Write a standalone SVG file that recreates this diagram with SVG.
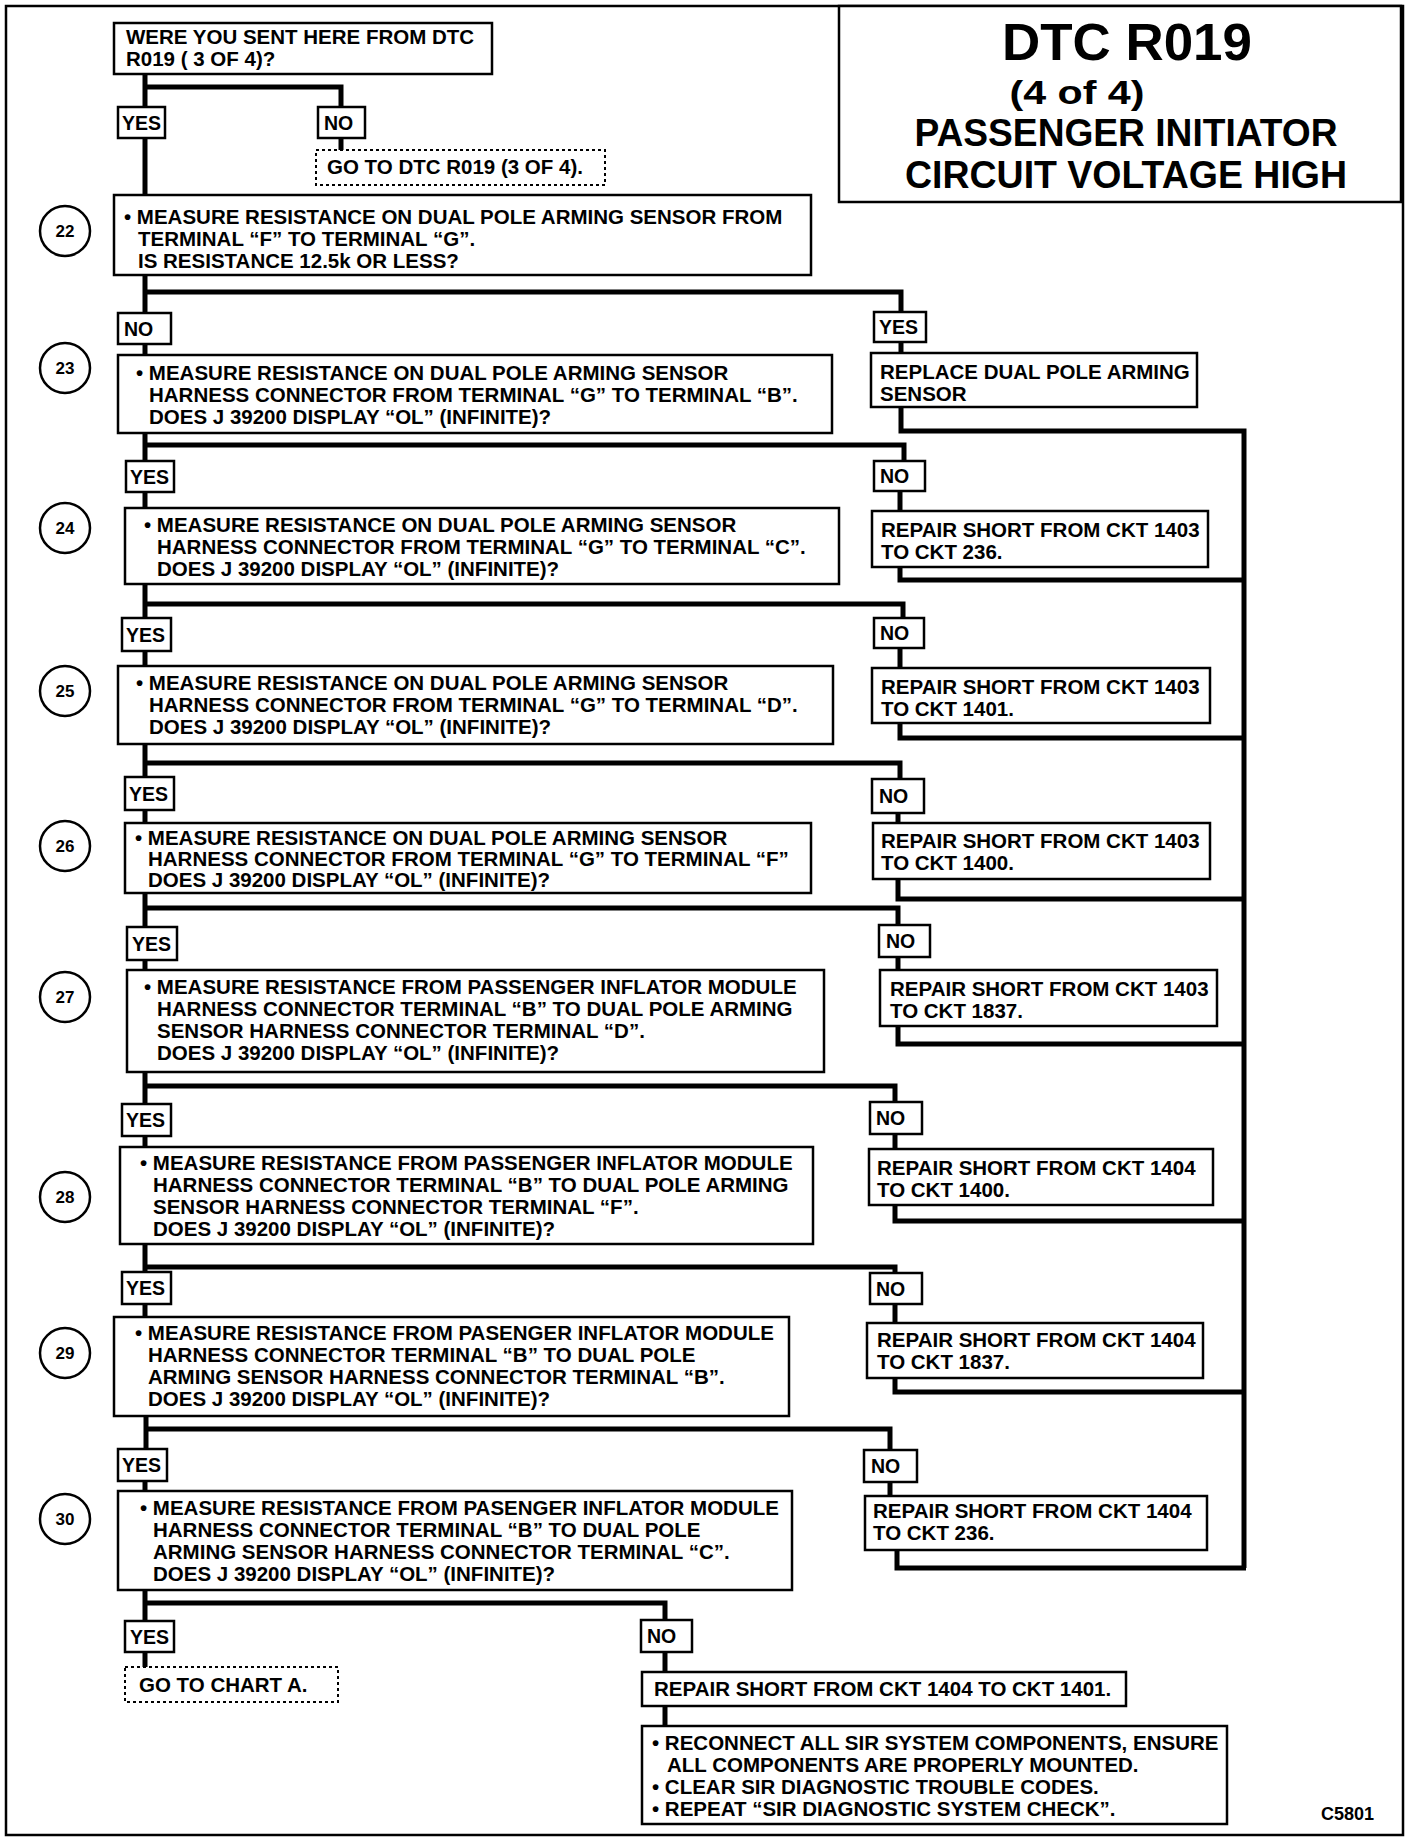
<svg xmlns="http://www.w3.org/2000/svg" width="1424" height="1846" viewBox="0 0 1424 1846">
<style>
.box{fill:#fff;stroke:#000;stroke-width:2.5}
.dash{fill:#fff;stroke:#000;stroke-width:2;stroke-dasharray:3 3}
.conn{fill:none;stroke:#000;stroke-width:5;stroke-linejoin:miter;stroke-linecap:butt}
.frame{fill:none;stroke:#000;stroke-width:2.5}
.circ{fill:#fff;stroke:#000;stroke-width:2.5}
text{font-family:"Liberation Sans",Arial,sans-serif;font-weight:bold;fill:#000}
.t{font-size:20.5px}
.lbl{font-size:19.5px}
.num{font-size:17px;text-anchor:middle}
.title{text-anchor:middle}
</style>
<rect x="0" y="0" width="1424" height="1846" fill="#fff"/>
<rect class="frame" x="6" y="6" width="1397" height="1829"/>

<g id="title">
<rect class="box" x="839" y="6" width="562" height="196"/>
<text class="title" x="1127" y="60" font-size="52" textLength="250" lengthAdjust="spacingAndGlyphs">DTC R019</text>
<text class="title" x="1077" y="104" font-size="34" textLength="135" lengthAdjust="spacingAndGlyphs">(4 of 4)</text>
<text class="title" x="1126" y="146" font-size="38" textLength="423" lengthAdjust="spacingAndGlyphs">PASSENGER INITIATOR</text>
<text class="title" x="1126" y="188" font-size="38" textLength="442" lengthAdjust="spacingAndGlyphs">CIRCUIT VOLTAGE HIGH</text>
</g>

<g id="connectors">
<path class="conn" d="M145 74 V107 M145 87 H341 V107"/>
<path class="conn" d="M341 138 V150"/>
<path class="conn" d="M145 138 V195"/>
<path class="conn" d="M145 275 V313 M145 292 H901 V312"/>
<path class="conn" d="M145 344 V355"/>
<path class="conn" d="M901 342 V353"/>
<path class="conn" d="M901 407 V431 H1244 V1568"/>
<path class="conn" d="M145 433 V461 M145 445 H904 V461"/>
<path class="conn" d="M145 492 V508"/>
<path class="conn" d="M900 491 V511"/>
<path class="conn" d="M900 567 V580 H1244"/>
<path class="conn" d="M145 584 V618 M145 604 H903 V618"/>
<path class="conn" d="M145 651 V666"/>
<path class="conn" d="M900 648 V668"/>
<path class="conn" d="M900 723 V738 H1244"/>
<path class="conn" d="M145 744 V777 M145 763 H900 V779"/>
<path class="conn" d="M145 810 V823"/>
<path class="conn" d="M898 813 V823"/>
<path class="conn" d="M898 879 V899 H1244"/>
<path class="conn" d="M145 893 V927 M145 908 H898 V925"/>
<path class="conn" d="M145 960 V970"/>
<path class="conn" d="M898 957 V970"/>
<path class="conn" d="M898 1026 V1044 H1244"/>
<path class="conn" d="M145 1072 V1104 M145 1086 H895 V1102"/>
<path class="conn" d="M145 1136 V1147"/>
<path class="conn" d="M895 1134 V1149"/>
<path class="conn" d="M895 1205 V1221 H1244"/>
<path class="conn" d="M145 1244 V1272 M145 1267 H895 V1273"/>
<path class="conn" d="M145 1304 V1317"/>
<path class="conn" d="M895 1304 V1323"/>
<path class="conn" d="M895 1378 V1392 H1244"/>
<path class="conn" d="M146 1416 V1449 M146 1429 H890 V1450"/>
<path class="conn" d="M145 1481 V1491"/>
<path class="conn" d="M890 1482 V1496"/>
<path class="conn" d="M897 1550 V1568 H1246"/>
<path class="conn" d="M145 1590 V1621 M145 1603 H665 V1620"/>
<path class="conn" d="M145 1652 V1667"/>
<path class="conn" d="M665 1652 V1672"/>
<path class="conn" d="M665 1706 V1726"/>
</g>

<g id="start">
<rect class="box" x="114" y="23" width="378" height="51"/>
<text class="t" x="126" y="44">WERE YOU SENT HERE FROM DTC</text>
<text class="t" x="126" y="66">R019 ( 3 OF 4)?</text>
</g>
<g id="yes-start"><rect class="box" x="118" y="107" width="47" height="31"/><text class="lbl" x="122" y="130">YES</text></g>
<g id="no-start"><rect class="box" x="318" y="107" width="47" height="31"/><text class="lbl" x="324" y="130">NO</text></g>
<g id="goto-dtc">
<rect class="dash" x="316" y="150" width="289" height="35"/>
<text class="t" x="327" y="174">GO TO DTC R019 (3 OF 4).</text>
</g>

<g id="step22">
<circle class="circ" cx="65" cy="231" r="25"/><text class="num" x="65" y="237">22</text>
<rect class="box" x="114" y="195" width="697" height="80"/>
<text class="t" x="124" y="224">• MEASURE RESISTANCE ON DUAL POLE ARMING SENSOR FROM</text>
<text class="t" x="138" y="246">TERMINAL “F” TO TERMINAL “G”.</text>
<text class="t" x="138" y="268">IS RESISTANCE 12.5k OR LESS?</text>
</g>
<g id="no22"><rect class="box" x="118" y="313" width="53" height="31"/><text class="lbl" x="124" y="336">NO</text></g>
<g id="yes22"><rect class="box" x="874" y="312" width="52" height="30"/><text class="lbl" x="879" y="334">YES</text></g>
<g id="replace">
<rect class="box" x="871" y="353" width="326" height="54"/>
<text class="t" x="880" y="379">REPLACE DUAL POLE ARMING</text>
<text class="t" x="880" y="401">SENSOR</text>
</g>

<g id="step23">
<circle class="circ" cx="65" cy="368" r="25"/><text class="num" x="65" y="374">23</text>
<rect class="box" x="118" y="355" width="714" height="78"/>
<text class="t" x="136" y="380">• MEASURE RESISTANCE ON DUAL POLE ARMING SENSOR</text>
<text class="t" x="149" y="402">HARNESS CONNECTOR FROM TERMINAL “G” TO TERMINAL “B”.</text>
<text class="t" x="149" y="424">DOES J 39200 DISPLAY “OL” (INFINITE)?</text>
</g>
<g id="yes23"><rect class="box" x="126" y="461" width="48" height="31"/><text class="lbl" x="130" y="484">YES</text></g>
<g id="no23"><rect class="box" x="874" y="461" width="51" height="30"/><text class="lbl" x="880" y="483">NO</text></g>
<g id="repair-1403-236">
<rect class="box" x="872" y="511" width="336" height="56"/>
<text class="t" x="881" y="537">REPAIR SHORT FROM CKT 1403</text>
<text class="t" x="881" y="559">TO CKT 236.</text>
</g>

<g id="step24">
<circle class="circ" cx="65" cy="528" r="25"/><text class="num" x="65" y="534">24</text>
<rect class="box" x="125" y="508" width="714" height="76"/>
<text class="t" x="144" y="532">• MEASURE RESISTANCE ON DUAL POLE ARMING SENSOR</text>
<text class="t" x="157" y="554">HARNESS CONNECTOR FROM TERMINAL “G” TO TERMINAL “C”.</text>
<text class="t" x="157" y="576">DOES J 39200 DISPLAY “OL” (INFINITE)?</text>
</g>
<g id="yes24"><rect class="box" x="122" y="618" width="49" height="33"/><text class="lbl" x="126" y="642">YES</text></g>
<g id="no24"><rect class="box" x="874" y="618" width="50" height="30"/><text class="lbl" x="880" y="640">NO</text></g>
<g id="repair-1403-1401">
<rect class="box" x="872" y="668" width="338" height="55"/>
<text class="t" x="881" y="694">REPAIR SHORT FROM CKT 1403</text>
<text class="t" x="881" y="716">TO CKT 1401.</text>
</g>

<g id="step25">
<circle class="circ" cx="65" cy="691" r="25"/><text class="num" x="65" y="697">25</text>
<rect class="box" x="118" y="666" width="715" height="78"/>
<text class="t" x="136" y="690">• MEASURE RESISTANCE ON DUAL POLE ARMING SENSOR</text>
<text class="t" x="149" y="712">HARNESS CONNECTOR FROM TERMINAL “G” TO TERMINAL “D”.</text>
<text class="t" x="149" y="734">DOES J 39200 DISPLAY “OL” (INFINITE)?</text>
</g>
<g id="yes25"><rect class="box" x="125" y="777" width="49" height="33"/><text class="lbl" x="129" y="801">YES</text></g>
<g id="no25"><rect class="box" x="872" y="779" width="52" height="34"/><text class="lbl" x="879" y="803">NO</text></g>
<g id="repair-1403-1400">
<rect class="box" x="873" y="823" width="337" height="56"/>
<text class="t" x="881" y="848">REPAIR SHORT FROM CKT 1403</text>
<text class="t" x="881" y="870">TO CKT 1400.</text>
</g>

<g id="step26">
<circle class="circ" cx="65" cy="846" r="25"/><text class="num" x="65" y="852">26</text>
<rect class="box" x="125" y="823" width="686" height="70"/>
<text class="t" x="135" y="845">• MEASURE RESISTANCE ON DUAL POLE ARMING SENSOR</text>
<text class="t" x="148" y="866">HARNESS CONNECTOR FROM TERMINAL “G” TO TERMINAL “F”</text>
<text class="t" x="148" y="887">DOES J 39200 DISPLAY “OL” (INFINITE)?</text>
</g>
<g id="yes26"><rect class="box" x="127" y="927" width="50" height="33"/><text class="lbl" x="132" y="951">YES</text></g>
<g id="no26"><rect class="box" x="879" y="925" width="51" height="32"/><text class="lbl" x="886" y="948">NO</text></g>
<g id="repair-1403-1837">
<rect class="box" x="880" y="970" width="337" height="56"/>
<text class="t" x="890" y="996">REPAIR SHORT FROM CKT 1403</text>
<text class="t" x="890" y="1018">TO CKT 1837.</text>
</g>

<g id="step27">
<circle class="circ" cx="65" cy="997" r="25"/><text class="num" x="65" y="1003">27</text>
<rect class="box" x="127" y="970" width="697" height="102"/>
<text class="t" x="144" y="994">• MEASURE RESISTANCE FROM PASSENGER INFLATOR MODULE</text>
<text class="t" x="157" y="1016">HARNESS CONNECTOR TERMINAL “B” TO DUAL POLE ARMING</text>
<text class="t" x="157" y="1038">SENSOR HARNESS CONNECTOR TERMINAL “D”.</text>
<text class="t" x="157" y="1060">DOES J 39200 DISPLAY “OL” (INFINITE)?</text>
</g>
<g id="yes27"><rect class="box" x="122" y="1104" width="49" height="32"/><text class="lbl" x="126" y="1127">YES</text></g>
<g id="no27"><rect class="box" x="870" y="1102" width="52" height="32"/><text class="lbl" x="876" y="1125">NO</text></g>
<g id="repair-1404-1400">
<rect class="box" x="869" y="1149" width="344" height="56"/>
<text class="t" x="877" y="1175">REPAIR SHORT FROM CKT 1404</text>
<text class="t" x="877" y="1197">TO CKT 1400.</text>
</g>

<g id="step28">
<circle class="circ" cx="65" cy="1197" r="25"/><text class="num" x="65" y="1203">28</text>
<rect class="box" x="120" y="1147" width="693" height="97"/>
<text class="t" x="140" y="1170">• MEASURE RESISTANCE FROM PASSENGER INFLATOR MODULE</text>
<text class="t" x="153" y="1192">HARNESS CONNECTOR TERMINAL “B” TO DUAL POLE ARMING</text>
<text class="t" x="153" y="1214">SENSOR HARNESS CONNECTOR TERMINAL “F”.</text>
<text class="t" x="153" y="1236">DOES J 39200 DISPLAY “OL” (INFINITE)?</text>
</g>
<g id="yes28"><rect class="box" x="122" y="1272" width="49" height="32"/><text class="lbl" x="126" y="1295">YES</text></g>
<g id="no28"><rect class="box" x="870" y="1273" width="52" height="31"/><text class="lbl" x="876" y="1296">NO</text></g>
<g id="repair-1404-1837">
<rect class="box" x="867" y="1323" width="336" height="55"/>
<text class="t" x="877" y="1347">REPAIR SHORT FROM CKT 1404</text>
<text class="t" x="877" y="1369">TO CKT 1837.</text>
</g>

<g id="step29">
<circle class="circ" cx="65" cy="1353" r="25"/><text class="num" x="65" y="1359">29</text>
<rect class="box" x="114" y="1317" width="675" height="99"/>
<text class="t" x="135" y="1340">• MEASURE RESISTANCE FROM PASENGER INFLATOR MODULE</text>
<text class="t" x="148" y="1362">HARNESS CONNECTOR TERMINAL “B” TO DUAL POLE</text>
<text class="t" x="148" y="1384">ARMING SENSOR HARNESS CONNECTOR TERMINAL “B”.</text>
<text class="t" x="148" y="1406">DOES J 39200 DISPLAY “OL” (INFINITE)?</text>
</g>
<g id="yes29"><rect class="box" x="118" y="1449" width="49" height="32"/><text class="lbl" x="122" y="1472">YES</text></g>
<g id="no29"><rect class="box" x="864" y="1450" width="53" height="32"/><text class="lbl" x="871" y="1473">NO</text></g>
<g id="repair-1404-236">
<rect class="box" x="865" y="1496" width="342" height="54"/>
<text class="t" x="873" y="1518">REPAIR SHORT FROM CKT 1404</text>
<text class="t" x="873" y="1540">TO CKT 236.</text>
</g>

<g id="step30">
<circle class="circ" cx="65" cy="1519" r="25"/><text class="num" x="65" y="1525">30</text>
<rect class="box" x="118" y="1491" width="674" height="99"/>
<text class="t" x="140" y="1515">• MEASURE RESISTANCE FROM PASENGER INFLATOR MODULE</text>
<text class="t" x="153" y="1537">HARNESS CONNECTOR TERMINAL “B” TO DUAL POLE</text>
<text class="t" x="153" y="1559">ARMING SENSOR HARNESS CONNECTOR TERMINAL “C”.</text>
<text class="t" x="153" y="1581">DOES J 39200 DISPLAY “OL” (INFINITE)?</text>
</g>
<g id="yes30"><rect class="box" x="125" y="1621" width="49" height="31"/><text class="lbl" x="130" y="1644">YES</text></g>
<g id="no30"><rect class="box" x="641" y="1620" width="51" height="32"/><text class="lbl" x="647" y="1643">NO</text></g>
<g id="goto-chart-a">
<rect class="dash" x="125" y="1667" width="213" height="35"/>
<text class="t" x="139" y="1692">GO TO CHART A.</text>
</g>
<g id="repair-1404-1401">
<rect class="box" x="642" y="1672" width="484" height="34"/>
<text class="t" x="654" y="1696">REPAIR SHORT FROM CKT 1404 TO CKT 1401.</text>
</g>
<g id="final">
<rect class="box" x="642" y="1726" width="585" height="98"/>
<text class="t" x="652" y="1750">• RECONNECT ALL SIR SYSTEM COMPONENTS, ENSURE</text>
<text class="t" x="667" y="1772">ALL COMPONENTS ARE PROPERLY MOUNTED.</text>
<text class="t" x="652" y="1794">• CLEAR SIR DIAGNOSTIC TROUBLE CODES.</text>
<text class="t" x="652" y="1816">• REPEAT “SIR DIAGNOSTIC SYSTEM CHECK”.</text>
</g>
<text x="1321" y="1820" font-size="18">C5801</text>
</svg>
